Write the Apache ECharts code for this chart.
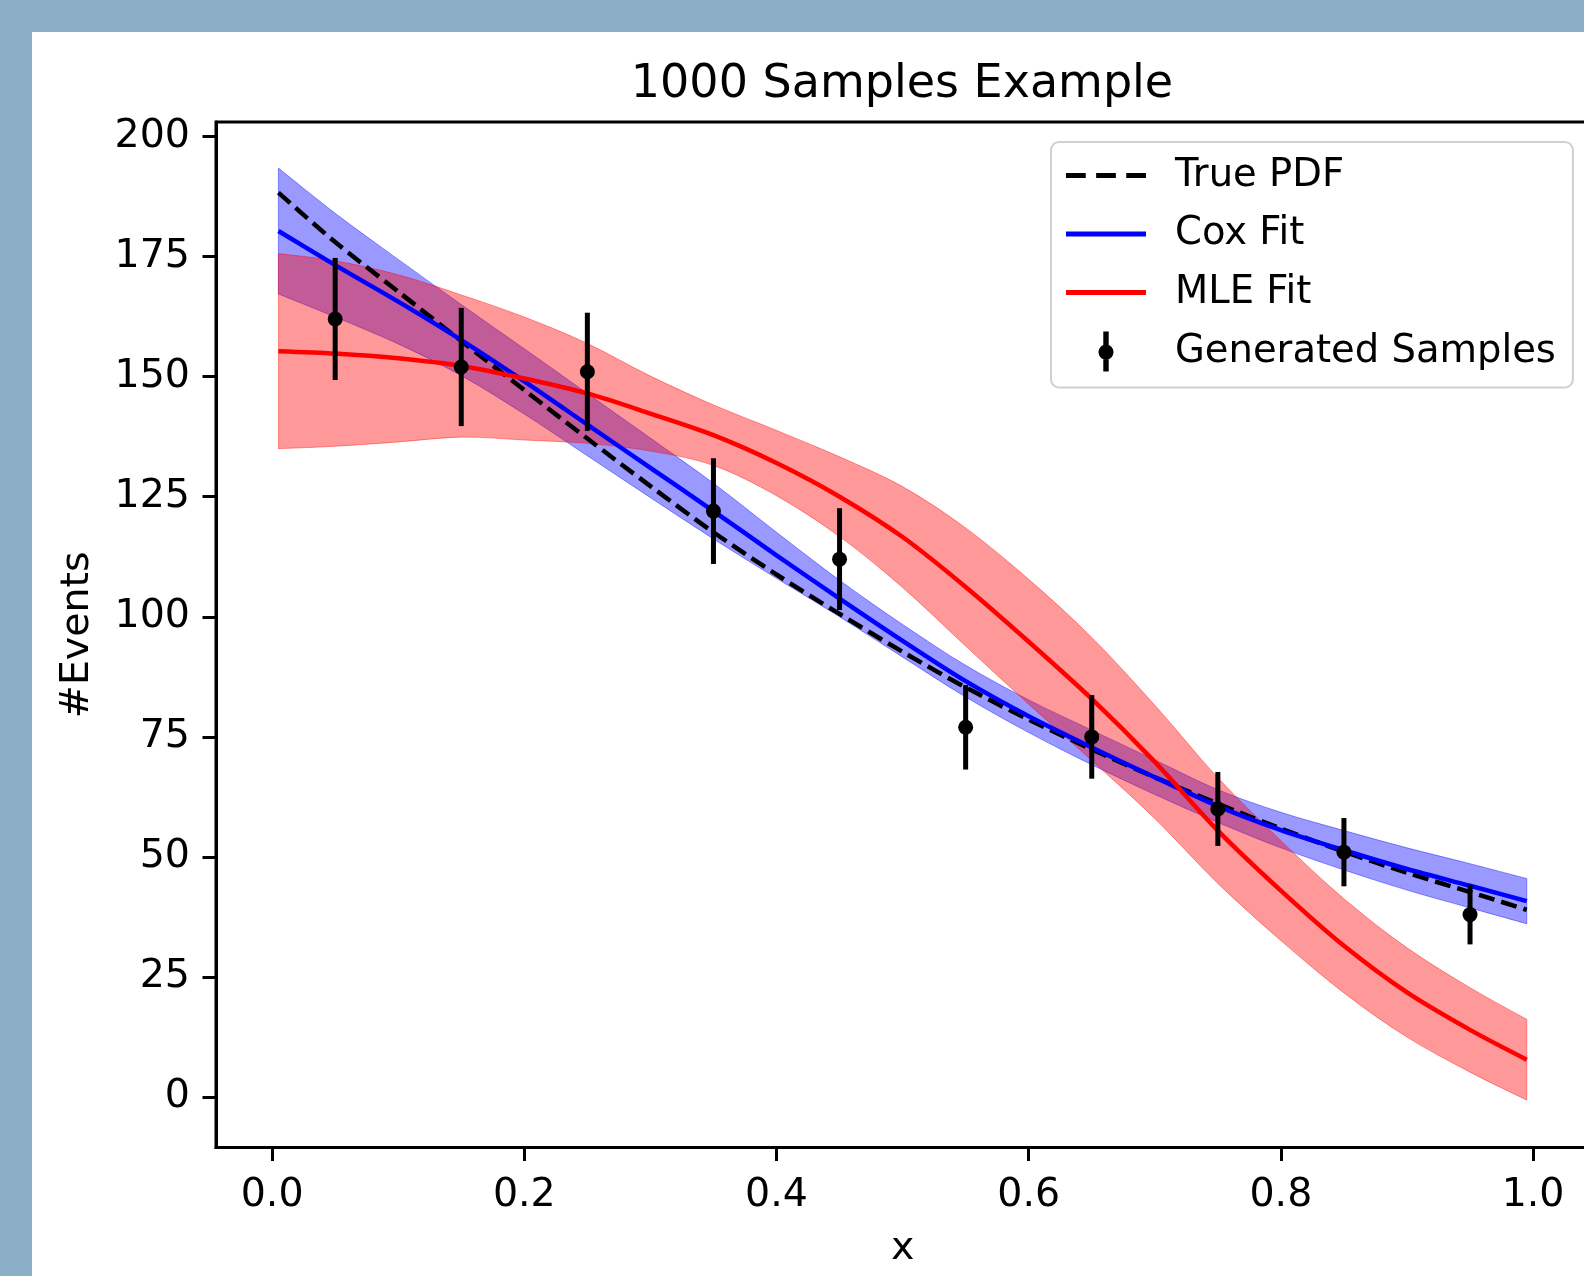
<!DOCTYPE html>
<html>
<head>
<meta charset="utf-8">
<script src="https://cdn.jsdelivr.net/npm/echarts@6/dist/echarts.min.js"></script>
<style>
  html, body { margin: 0; padding: 0; width: 1584px; height: 1276px; background: #8aafc6; overflow: hidden; }
  #chart { position: absolute; left: 32px; top: 32px; width: 1552px; height: 1244px; background: #ffffff; }
</style>
</head>
<body>
<div id="chart"></div>
<script>
// ---- data ----
const curveX   = [0.005, 0.05, 0.1, 0.15, 0.2, 0.25, 0.3, 0.35, 0.4, 0.45, 0.5, 0.55, 0.6, 0.65, 0.7, 0.75, 0.8, 0.85, 0.9, 0.95, 0.995];
const truePdf  = [188.3, 178.0, 167.7, 157.4, 147.2, 137.1, 127.2, 117.6, 108.8, 100.6, 92.7, 85.3, 78.6, 72.4, 66.6, 61.1, 55.9, 51.1, 46.7, 42.7, 39.0];
const coxFit   = [180.3, 173.2, 165.6, 157.6, 149.0, 140.0, 131.0, 122.0, 112.8, 103.8, 95.0, 86.6, 79.3, 72.8, 66.6, 60.6, 55.6, 51.4, 47.5, 44.0, 40.8];
const coxUpper = [193.4, 184.0, 174.4, 165.0, 155.8, 146.5, 137.2, 127.8, 117.6, 107.6, 98.4, 89.9, 82.7, 76.4, 70.2, 64.0, 59.3, 55.5, 51.9, 48.6, 45.5];
const coxLower = [167.2, 162.4, 156.8, 150.2, 142.2, 133.5, 124.8, 116.2, 108.0, 100.0, 91.6, 83.3, 75.9, 69.2, 63.0, 57.2, 51.9, 47.3, 43.1, 39.4, 36.1];
const mleFit   = [155.3, 154.8, 153.8, 152.2, 149.6, 146.5, 142.3, 137.8, 132.0, 125.0, 116.6, 106.2, 94.8, 82.9, 69.8, 55.5, 43.0, 31.5, 21.8, 14.0, 7.8];
const mleUpper = [175.6, 174.1, 171.2, 167.0, 162.4, 156.9, 150.1, 144.1, 138.8, 133.3, 127.1, 118.5, 107.8, 95.7, 81.6, 66.5, 53.4, 41.3, 31.1, 22.8, 16.2];
const mleLower = [135.0, 135.5, 136.4, 137.4, 136.8, 136.1, 134.5, 131.5, 125.2, 116.7, 106.1, 93.9, 81.8, 70.1, 58.0, 44.5, 32.6, 21.7, 12.5, 5.2, -0.6];
const sampleX   = [0.05, 0.15, 0.25, 0.35, 0.45, 0.55, 0.65, 0.75, 0.85, 0.95];
const sampleY   = [162, 152, 151, 122, 112, 77, 75, 60, 51, 38];
const sampleErr = [12.7, 12.3, 12.3, 11.0, 10.6, 8.8, 8.7, 7.7, 7.1, 6.2];
const xTicks = [0.0, 0.2, 0.4, 0.6, 0.8, 1.0];
const yTicks = [0, 25, 50, 75, 100, 125, 150, 175, 200];

// ---- build series data ----
const pairs = (ys) => curveX.map((x, i) => [x, ys[i]]);
const bandData = (lo, hi) => curveX.map((x, i) => [x, lo[i], hi[i]]);
const errData = sampleX.map((x, i) => [x, sampleY[i] - sampleErr[i], sampleY[i] + sampleErr[i]]);
const dotData = sampleX.map((x, i) => [x, sampleY[i]]);

// smooth path through pixel points (Catmull-Rom as cubic Bezier)
function smoothSeg(pts, startCmd) {
  const n = pts.length;
  let s = startCmd + pts[0][0].toFixed(2) + ',' + pts[0][1].toFixed(2);
  for (let i = 0; i < n - 1; i++) {
    const p0 = pts[Math.max(i - 1, 0)], p1 = pts[i], p2 = pts[i + 1], p3 = pts[Math.min(i + 2, n - 1)];
    const c1 = [p1[0] + (p2[0] - p0[0]) / 6, p1[1] + (p2[1] - p0[1]) / 6];
    const c2 = [p2[0] - (p3[0] - p1[0]) / 6, p2[1] - (p3[1] - p1[1]) / 6];
    s += ' C' + c1[0].toFixed(2) + ',' + c1[1].toFixed(2) + ' ' + c2[0].toFixed(2) + ',' + c2[1].toFixed(2) + ' ' + p2[0].toFixed(2) + ',' + p2[1].toFixed(2);
  }
  return s;
}
function bandRenderer(color) {
  return (params, api) => {
    if (params.dataIndex !== 0) return null;
    const n = curveX.length;
    const up = [], dn = [];
    for (let i = 0; i < n; i++) {
      const x = api.value(0, i);
      up.push(api.coord([x, api.value(2, i)]));
      dn.push(api.coord([x, api.value(1, i)]));
    }
    dn.reverse();
    const d = smoothSeg(up, 'M') + ' ' + smoothSeg(dn, 'L') + ' Z';
    return { type: 'path', shape: { pathData: d },
             style: { fill: color, stroke: color, lineWidth: 1 } };
  };
}

const FONT = 'DejaVu Sans';
const FS = 39.5;
const SM = 0.3;
const LW = 4.5;

const chart = echarts.init(document.getElementById('chart'), null, { renderer: 'canvas' });
chart.setOption({
  animation: false,
  backgroundColor: '#ffffff',
  textStyle: { fontFamily: FONT, color: '#000' },
  graphic: [{
    type: 'text', x: 870, y: 53, z: 10,
    style: { text: '1000 Samples Example', font: '46px "DejaVu Sans"', fill: '#000',
             align: 'center', verticalAlign: 'middle', textAlign: 'center', textVerticalAlign: 'middle' }
  }],
  grid: { left: 184, top: 90, width: 1373.2, height: 1025.6, show: true, borderColor: '#000', borderWidth: 3,
          backgroundColor: 'transparent', containLabel: false, outerBoundsMode: 'none' },
  xAxis: {
    type: 'value', min: -0.0445, max: 1.0445,
    name: 'x', nameLocation: 'middle', nameGap: 81,
    nameTextStyle: { fontFamily: FONT, fontSize: FS, color: '#000' },
    axisLine: { show: true, onZero: false, lineStyle: { color: '#000', width: 3 } },
    axisTick: { show: true, inside: false, length: 13.5, lineStyle: { color: '#000', width: 3 }, customValues: xTicks },
    axisLabel: { show: true, margin: 28, fontFamily: FONT, fontSize: FS, color: '#000', customValues: xTicks,
                 formatter: (v) => Number(v).toFixed(1) },
    splitLine: { show: false }
  },
  yAxis: {
    type: 'value', min: -10.5, max: 203.0,
    name: '#Events', nameLocation: 'middle', nameGap: 118,
    nameTextStyle: { fontFamily: FONT, fontSize: FS, color: '#000' },
    axisLine: { show: true, onZero: false, lineStyle: { color: '#000', width: 3 } },
    axisTick: { show: true, inside: false, length: 13.5, lineStyle: { color: '#000', width: 3 }, customValues: yTicks },
    axisLabel: { show: true, margin: 26, fontFamily: FONT, fontSize: FS, color: '#000', customValues: yTicks,
                 formatter: (v) => String(Math.round(v)) },
    splitLine: { show: false }
  },
  legend: {
    show: true, orient: 'vertical', left: 1019, top: 110,
    padding: [14, 17, 16, 15],
    itemWidth: 80, itemHeight: 40, itemGap: 19.5,
    backgroundColor: 'rgba(255,255,255,0.8)', borderColor: '#d0d0d0', borderWidth: 2, borderRadius: 8,
    selectedMode: false,
    itemStyle: { borderWidth: 0, opacity: 1 },
    textStyle: { fontFamily: FONT, fontSize: 38.5, color: '#000', padding: [0, 0, 0, 24] },
    data: [
      { name: 'True PDF', icon: 'path://M0,0h19v5h-19z M29,0h19v5h-19z M58,0h19v5h-19z' },
      { name: 'Cox Fit', icon: 'path://M0,0h80v5h-80z' },
      { name: 'MLE Fit', icon: 'path://M0,0h80v5h-80z' },
      { name: 'Generated Samples', icon: 'path://M4.5,0L9.5,0L9.5,37L4.5,37Z M0,19A7,7,0,1,1,14,19A7,7,0,1,1,0,19Z' }
    ]
  },
  series: [
    // confidence bands (Cox first, MLE over it)
    { name: 'Cox band', type: 'custom', data: bandData(coxLower, coxUpper), encode: { x: 0, y: [1, 2] },
      renderItem: bandRenderer('rgba(0,0,255,0.4)'), clip: true, z: 2, silent: true },
    { name: 'MLE band', type: 'custom', data: bandData(mleLower, mleUpper), encode: { x: 0, y: [1, 2] },
      renderItem: bandRenderer('rgba(255,0,0,0.4)'), clip: true, z: 2, silent: true },
    // lines
    { name: 'True PDF', type: 'line', data: pairs(truePdf), smooth: SM, symbol: 'none', showSymbol: false,
      itemStyle: { color: '#000', opacity: 1 }, lineStyle: { color: '#000', width: LW, type: [16, 7] }, z: 3 },
    { name: 'Cox Fit', type: 'line', data: pairs(coxFit), smooth: SM, symbol: 'none', showSymbol: false,
      itemStyle: { color: '#0000ff', opacity: 1 }, lineStyle: { color: '#0000ff', width: LW }, z: 3 },
    { name: 'MLE Fit', type: 'line', data: pairs(mleFit), smooth: SM, symbol: 'none', showSymbol: false,
      itemStyle: { color: '#ff0000', opacity: 1 }, lineStyle: { color: '#ff0000', width: LW }, z: 3 },
    // error bars
    { name: 'errors', type: 'custom', data: errData, encode: { x: 0, y: [1, 2] }, z: 4, silent: true,
      renderItem: (params, api) => {
        const x = api.value(0);
        const p1 = api.coord([x, api.value(1)]);
        const p2 = api.coord([x, api.value(2)]);
        return { type: 'line', shape: { x1: p1[0], y1: p1[1], x2: p2[0], y2: p2[1] },
                 style: { stroke: '#000', lineWidth: 5 } };
      } },
    { name: 'Generated Samples', type: 'scatter', data: dotData, symbol: 'circle', symbolSize: 15,
      itemStyle: { color: '#000', opacity: 1 }, z: 5 }
  ]
});
</script>
</body>
</html>
